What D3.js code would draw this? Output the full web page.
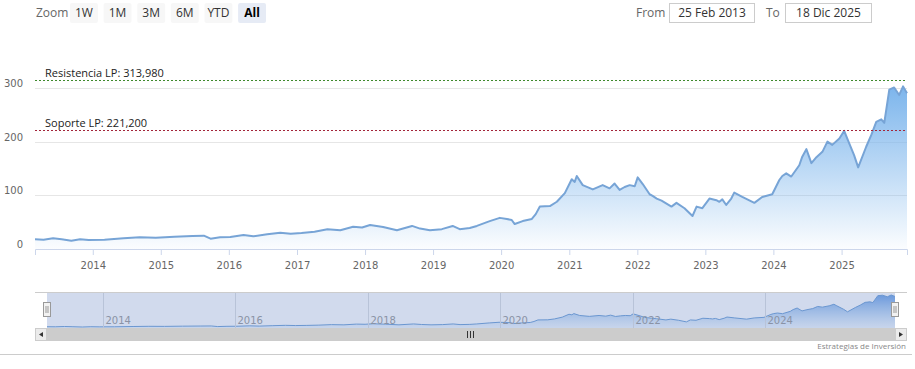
<!DOCTYPE html>
<html lang="es">
<head>
<meta charset="UTF-8">
<title>Cotización</title>
<script src="https://cdn.jsdelivr.net/npm/d3@7"></script>
<style>
  body { margin: 0; background: #ffffff; }
  svg { display: block; }
</style>
</head>
<body>
<div id="chart"></div>
<script>
// price series (approximate)
const dates = [
  "2013-02-25","2013-04-12","2013-06-02","2013-07-18","2013-09-08","2013-10-25","2013-12-10","2014-03-05",
  "2014-06-15","2014-09-10","2014-12-05","2015-03-15","2015-06-20","2015-08-20","2015-09-25","2015-11-15",
  "2016-01-09","2016-03-20","2016-05-11","2016-07-25","2016-10-03","2016-11-28","2017-01-25","2017-04-05",
  "2017-06-13","2017-08-21","2017-10-29","2017-12-16","2018-01-28","2018-04-08","2018-06-21","2018-09-10",
  "2018-10-23","2018-12-15","2019-02-17","2019-04-16","2019-05-24","2019-07-17","2019-08-24","2019-11-01",
  "2019-12-25","2020-02-01","2020-02-27","2020-03-14","2020-04-26","2020-06-14","2020-07-05","2020-07-27",
  "2020-09-19","2020-10-26","2020-12-08","2021-01-14","2021-01-30","2021-02-10","2021-03-14","2021-05-07",
  "2021-06-29","2021-08-05","2021-09-01","2021-09-28","2021-10-25","2021-11-21","2021-12-18","2022-01-03",
  "2022-01-30","2022-03-08","2022-03-24","2022-04-15","2022-05-11","2022-07-03","2022-07-30","2022-09-11",
  "2022-10-24","2022-11-15","2022-12-16","2023-01-23","2023-03-01","2023-03-17","2023-04-02","2023-04-23",
  "2023-05-20","2023-06-05","2023-07-18","2023-09-21","2023-11-02","2023-12-26","2024-02-02","2024-02-18",
  "2024-03-10","2024-04-06","2024-05-19","2024-06-04","2024-06-26","2024-07-23","2024-08-19","2024-09-20",
  "2024-10-17","2024-11-12","2024-12-20","2025-01-15","2025-01-31","2025-03-09","2025-03-31","2025-05-13",
  "2025-06-09","2025-07-06","2025-08-02","2025-08-18","2025-09-14","2025-10-10","2025-11-06","2025-11-27",
  "2025-12-18"
];
const prices = [
  18, 17.4, 19.9, 18, 15.5, 18, 16.8, 17.4,
  19.9, 21.7, 21.1, 23, 24.2, 24.8, 19.3, 21.7,
  22.3, 26, 23.6, 27.3, 30.4, 28.5, 29.8, 32.3,
  36.7, 35, 41.5, 40, 44.7, 41, 35, 43,
  38, 35, 37, 43, 37, 39, 43, 52,
  58, 56, 54, 46.5, 52, 56, 65, 79,
  80, 88, 104, 130, 125, 136, 119, 111,
  119, 113, 122, 110, 115.5, 119, 117, 133.5,
  121, 102, 99, 94, 90, 79, 86, 76,
  61.5, 79, 76, 94, 91, 88, 92.5, 82,
  94, 105, 97, 86, 97, 102, 128.5, 136,
  141, 135, 156, 172, 186, 160, 171, 181,
  200, 194, 206, 220, 206, 175, 152, 190.5,
  212, 237, 241.5, 235, 297, 301, 287, 303,
  290
];
const yearTicks = [2014,2015,2016,2017,2018,2019,2020,2021,2022,2023,2024,2025];
const navYearTicks = [2014,2016,2018,2020,2022,2024];
const yTicks = [0, 100, 200, 300];
const zoomButtons = ["1W","1M","3M","6M","YTD","All"];
const levels = [
  { name: "Resistencia LP: 313,980", value: 313.98, color: "#3f8a2e" },
  { name: "Soporte LP: 221,200", value: 221.2, color: "#a3253a" }
];
const fromLabel = "25 Feb 2013";
const toLabel = "18 Dic 2025";

const W = 915, H = 369;
const parse = d3.timeParse("%Y-%m-%d");
const data = dates.map((d, i) => ({ date: parse(d), value: prices[i] }));

const svg = d3.select("#chart").append("svg")
  .attr("width", W).attr("height", H)
  .style("font-family", "'Open Sans', sans-serif");

const defs = svg.append("defs");

// main scales
const x = d3.scaleTime()
  .domain([parse("2013-02-25"), parse("2025-12-18")])
  .range([35, 907]);
const y = d3.scaleLinear().domain([0, 400]).range([249, 34.3]);

// range selector
svg.append("text").attr("x", 36).attr("y", 17)
  .attr("font-size", 12).attr("fill", "#666").text("Zoom");
const btnX = d3.scaleBand().domain(zoomButtons).range([70, 266]).paddingInner(0.17);
const btn = svg.append("g").selectAll("g").data(zoomButtons).join("g")
  .attr("transform", d => `translate(${btnX(d)},3)`);
btn.append("rect")
  .attr("width", btnX.bandwidth()).attr("height", 20).attr("rx", 2)
  .attr("fill", d => d === "All" ? "#e6ebf5" : "#f7f7f7");
btn.append("text")
  .attr("x", btnX.bandwidth() / 2).attr("y", 14)
  .attr("text-anchor", "middle").attr("font-size", 12)
  .attr("font-weight", d => d === "All" ? "bold" : "normal")
  .attr("fill", d => d === "All" ? "#000" : "#333")
  .text(d => d);

// from / to inputs
svg.append("text").attr("x", 636).attr("y", 17).attr("font-size", 12).attr("fill", "#666").text("From");
svg.append("rect").attr("x", 669.5).attr("y", 3.5).attr("width", 85).attr("height", 19)
  .attr("fill", "#fff").attr("stroke", "#ccc");
svg.append("text").attr("x", 712).attr("y", 17).attr("text-anchor", "middle")
  .attr("font-size", 12).attr("fill", "#333").text(fromLabel);
svg.append("text").attr("x", 766).attr("y", 17).attr("font-size", 12).attr("fill", "#666").text("To");
svg.append("rect").attr("x", 785.5).attr("y", 3.5).attr("width", 86).attr("height", 19)
  .attr("fill", "#fff").attr("stroke", "#ccc");
svg.append("text").attr("x", 828.5).attr("y", 17).attr("text-anchor", "middle")
  .attr("font-size", 12).attr("fill", "#333").text(toLabel);

// grid
svg.append("g").selectAll("line").data(yTicks.filter(d => d > 0)).join("line")
  .attr("x1", 35).attr("x2", 907)
  .attr("y1", d => Math.round(y(d)) + 0.5).attr("y2", d => Math.round(y(d)) + 0.5)
  .attr("stroke", "#e6e6e6");

// area gradient
const grad = defs.append("linearGradient").attr("id", "areaGrad")
  .attr("gradientUnits", "userSpaceOnUse")
  .attr("x1", 0).attr("x2", 0).attr("y1", y(d3.max(prices))).attr("y2", y(0));
grad.append("stop").attr("offset", 0).attr("stop-color", "#7cb5ec").attr("stop-opacity", 1);
grad.append("stop").attr("offset", 1).attr("stop-color", "#7cb5ec").attr("stop-opacity", 0.03);

const area = d3.area().x(d => x(d.date)).y0(y(0)).y1(d => y(d.value));
const line = d3.line().x(d => x(d.date)).y(d => y(d.value));

svg.append("path").datum(data).attr("d", area).attr("fill", "url(#areaGrad)");
svg.append("path").datum(data).attr("d", line)
  .attr("fill", "none").attr("stroke", "#77a4d6").attr("stroke-width", 2)
  .attr("stroke-linejoin", "round");

// support / resistance lines
levels.forEach(l => {
  const yy = Math.round(y(l.value)) + 0.5;
  svg.append("line").attr("x1", 35).attr("x2", 907).attr("y1", yy).attr("y2", yy)
    .attr("stroke", l.color).attr("stroke-width", 1).attr("stroke-dasharray", "2,2");
  svg.append("text").attr("x", 45).attr("y", yy - 4)
    .attr("font-size", 11).attr("fill", "#222").text(l.name);
});

// axes
const xAxis = svg.append("g").attr("transform", `translate(0,${y(0)})`)
  .call(d3.axisBottom(x)
    .tickValues(yearTicks.map(yr => new Date(yr, 0, 1)))
    .tickFormat(d3.timeFormat("%Y")).tickSize(6).tickPadding(7));
xAxis.select(".domain").attr("stroke", "#ccd6eb");
xAxis.selectAll(".tick line").attr("stroke", "#ccd6eb");
xAxis.selectAll("text").attr("fill", "#666").attr("font-size", 10).attr("font-family", "'DejaVu Sans', sans-serif");

const yAxis = svg.append("g").attr("transform", "translate(23,0)")
  .call(d3.axisLeft(y).tickValues(yTicks).tickSize(0).tickPadding(0));
yAxis.select(".domain").remove();
yAxis.selectAll("text").attr("fill", "#666").attr("font-size", 10)
  .attr("font-family", "'DejaVu Sans', sans-serif").attr("dy", "-0.15em");

// navigator
const nx = d3.scaleTime().domain(x.domain()).range([47, 895]);
const ny = d3.scaleLinear().domain(d3.extent(prices)).range([327, 295]);

svg.append("line").attr("x1", 35).attr("x2", 907).attr("y1", 292.5).attr("y2", 292.5).attr("stroke", "#ccc");

const ngrad = defs.append("linearGradient").attr("id", "navGrad")
  .attr("gradientUnits", "userSpaceOnUse")
  .attr("x1", 0).attr("x2", 0).attr("y1", 295).attr("y2", 328);
ngrad.append("stop").attr("offset", 0).attr("stop-color", "#4a8be0").attr("stop-opacity", 0.8);
ngrad.append("stop").attr("offset", 1).attr("stop-color", "#7cb5ec").attr("stop-opacity", 0.1);

svg.append("path").datum(data)
  .attr("d", d3.area().x(d => nx(d.date)).y0(328).y1(d => ny(d.value)))
  .attr("fill", "url(#navGrad)");
svg.append("path").datum(data)
  .attr("d", d3.line().x(d => nx(d.date)).y(d => ny(d.value)))
  .attr("fill", "none").attr("stroke", "#6d9fd6").attr("stroke-width", 1);

// selected mask (whole range)
svg.append("rect").attr("x", 47).attr("y", 293).attr("width", 848).attr("height", 35)
  .attr("fill", "rgba(102,133,194,0.3)");

const navTicks = svg.append("g");
navYearTicks.forEach(yr => {
  const xx = Math.round(nx(new Date(yr, 0, 1))) + 0.5;
  navTicks.append("line").attr("x1", xx).attr("x2", xx).attr("y1", 293).attr("y2", 328)
    .attr("stroke", "#b8c3d8");
  navTicks.append("text").attr("x", xx + 2).attr("y", 324)
    .attr("font-size", 10).attr("font-family", "'DejaVu Sans', sans-serif")
    .attr("fill", "#8a93a6").text(yr);
});

// handles
[47, 895].forEach(hx => {
  const g = svg.append("g").attr("transform", `translate(${hx},0)`);
  g.append("rect").attr("x", -3.5).attr("y", 302.5).attr("width", 7).attr("height", 14)
    .attr("fill", "#f2f2f2").attr("stroke", "#999");
  g.append("line").attr("x1", -1).attr("x2", -1).attr("y1", 306).attr("y2", 313).attr("stroke", "#999");
  g.append("line").attr("x1", 1).attr("x2", 1).attr("y1", 306).attr("y2", 313).attr("stroke", "#999");
});

// scrollbar
svg.append("rect").attr("x", 35).attr("y", 328).attr("width", 872).attr("height", 13).attr("fill", "#f2f2f2");
svg.append("rect").attr("x", 47).attr("y", 328).attr("width", 848).attr("height", 13).attr("fill", "#cccccc");
[[35, "M43,332 L39,334.5 L43,337 Z"], [895, "M899,332 L903,334.5 L899,337 Z"]].forEach(([bx, p]) => {
  svg.append("rect").attr("x", bx + 0.5).attr("y", 328.5).attr("width", 11).attr("height", 12)
    .attr("fill", "#ebebeb").attr("stroke", "#ccc");
  svg.append("path").attr("d", p).attr("fill", "#333");
});
[467, 470, 473].forEach(rx => {
  svg.append("line").attr("x1", rx + 0.5).attr("x2", rx + 0.5).attr("y1", 331).attr("y2", 338)
    .attr("stroke", "#333");
});

// credit and bottom rule
svg.append("text").attr("x", 906).attr("y", 349).attr("text-anchor", "end")
  .attr("font-size", 8).attr("fill", "#888").text("Estrategias de Inversión");
svg.append("line").attr("x1", 0).attr("x2", 912).attr("y1", 354.5).attr("y2", 354.5)
  .attr("stroke", "#ccc");
</script>
</body>
</html>
